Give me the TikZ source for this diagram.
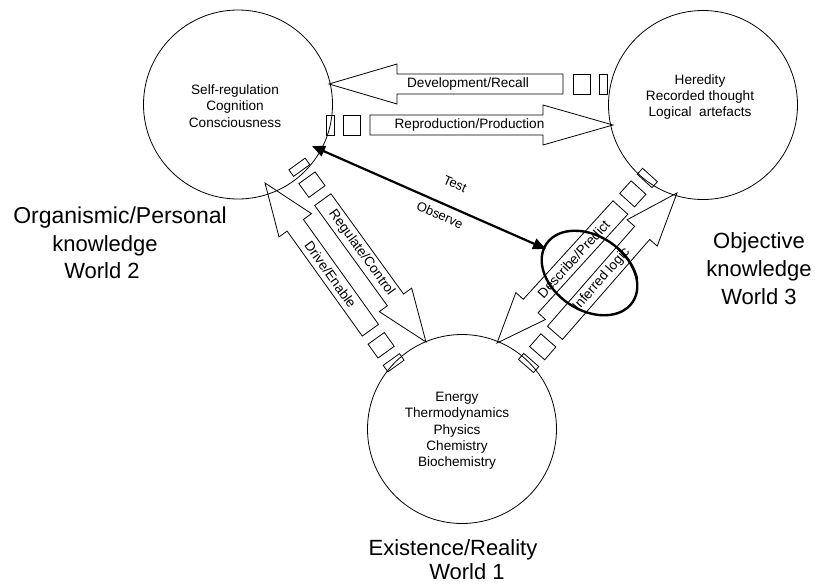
\documentclass[tikz,border=0pt]{standalone}
\usepackage{fontspec}
\setmainfont{Liberation Sans}
\usetikzlibrary{arrows.meta}

\newdimen\wkdx
\newdimen\wkdy
% Segmented block arrow: tail coordinate #1, tip coordinate #2,
% head length #3 (pt), label #4.  The label is kept upright.
\newcommand\wkarrow[4]{%
  \pgfextractx{\wkdx}{\pgfpointdiff{\pgfpointanchor{#1}{center}}{\pgfpointanchor{#2}{center}}}%
  \pgfextracty{\wkdy}{\pgfpointdiff{\pgfpointanchor{#1}{center}}{\pgfpointanchor{#2}{center}}}%
  \pgfmathsetmacro\wkang{atan2(\wkdy,\wkdx)}%
  \pgfmathsetmacro\wklen{veclen(\wkdx,\wkdy)}%
  \pgfmathsetmacro\wkbase{\wklen-#3}%
  \pgfmathsetmacro\wkmid{0.5*\wklen}%
  \pgfmathsetmacro\wktxt{(\wkang>90) ? (\wkang-180) : ((\wkang<-90) ? (\wkang+180) : \wkang)}%
  \begin{scope}[shift={(#1)}, rotate=\wkang]
    \draw[arrowline] (0pt,-10pt) rectangle (8pt,10pt);
    \draw[arrowline] (17pt,-10pt) rectangle (34pt,10pt);
    \draw[arrowline] (44pt,-10pt) -- (\wkbase pt,-10pt) -- (\wkbase pt,-20pt)
      -- (\wklen pt,0pt) -- (\wkbase pt,20pt) -- (\wkbase pt,10pt) -- (44pt,10pt) -- cycle;
    \node[arrowlabel, rotate=\wktxt] at (\wkmid pt,0pt) {#4};
  \end{scope}}

\tikzset{
  world/.style={draw, circle, line width=0.8pt, minimum size=189pt, inner sep=0pt},
  arrowline/.style={line width=0.8pt, line join=miter},
  arrowlabel/.style={font=\fontsize{13.6}{16}\selectfont, inner sep=0pt},
  innertext/.style={align=center, inner sep=0pt, font=\fontsize{13.6}{16.3}\selectfont},
  bigtext/.style={anchor=base, inner sep=0pt, font=\fontsize{22}{27.5}\selectfont},
  testline/.style={line width=2.2pt,
    {Triangle[length=13pt,width=11pt]}-{Triangle[length=13pt,width=11pt]}},
  testlabel/.style={inner sep=0pt, rotate=-23.75, font=\fontsize{13}{15}\selectfont},
  hand/.style={line width=2.4pt, line cap=round},
}

\begin{document}
\begin{tikzpicture}[x=1pt, y=-1pt]
  \useasboundingbox (0,0) rectangle (815,584);

  % the three worlds
  \node[world] (w2) at (238,104.5) {};
  \node[world] (w3) at (703,105) {};
  \node[world] (w1) at (462,429) {};

  \node[innertext] (w2txt) at (235,106) {Self-regulation\\Cognition\\Consciousness};
  \node[innertext] (w3txt) at (700,97) {Heredity\\Recorded thought\\Logical\ \ artefacts};
  \node[innertext] (w1txt) at (457,431) {Energy\\Thermodynamics\\Physics\\Chemistry\\Biochemistry};

  % world captions
  \node[bigtext, font=\fontsize{23}{27.5}\selectfont] (c2a) at (120,223) {Organismic/Personal};
  \node[bigtext] (c2b) at (105,251) {knowledge};
  \node[bigtext] (c2c) at (102,278) {World 2};
  \node[bigtext] (c3a) at (759,248) {Objective};
  \node[bigtext] (c3b) at (759,276) {knowledge};
  \node[bigtext] (c3c) at (759,304) {World 3};
  \node[bigtext] (c1a) at (453,555) {Existence/Reality};
  \node[bigtext] (c1b) at (467,579.5) {World 1};

  % arrow end points (tail, tip)
  \coordinate (devT) at (607,84);  \coordinate (devH) at (329,84);
  \coordinate (repT) at (326,125); \coordinate (repH) at (613,125);
  \coordinate (regT) at (297,164); \coordinate (regH) at (426,342);
  \coordinate (drvT) at (396,366); \coordinate (drvH) at (265,183);
  \coordinate (desT) at (650,175); \coordinate (desH) at (497,343);
  \coordinate (infT) at (526,366); \coordinate (infH) at (677,193);

  \wkarrow{devT}{devH}{68}{Development/Recall}
  \wkarrow{repT}{repH}{70}{Reproduction/Production}
  \wkarrow{regT}{regH}{52}{Regulate/Control}
  \wkarrow{drvT}{drvH}{52}{Drive/Enable}
  \wkarrow{desT}{desH}{50}{Describe/Predict}
  \wkarrow{infT}{infH}{53}{Inferred logic}

  % test / observe link
  \coordinate (tA) at (312,146);
  \coordinate (tB) at (546,249);
  \draw[testline] (tA) -- (tB);
  \node[testlabel] (test) at (455,184) {Test};
  \node[testlabel] (obs) at (440,215) {Observe};

  % hand-drawn ring, its stroke running on a little past the start
  \begin{scope}[shift={(589.5,273)}, rotate=-34]
    \draw[hand] (0,0) ellipse [x radius=52pt, y radius=37pt];
    \draw[hand] (78:52pt and 37pt) arc [start angle=78, end angle=38, x radius=55pt, y radius=40pt];
  \end{scope}
\end{tikzpicture}
\end{document}
